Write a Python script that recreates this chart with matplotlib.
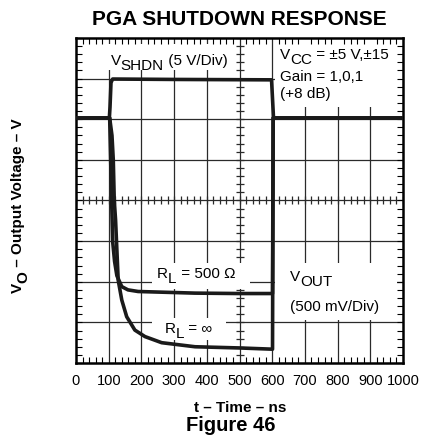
import numpy as np
import matplotlib
matplotlib.use('Agg')
import matplotlib.pyplot as plt
from matplotlib.patches import Rectangle

plt.rcParams['font.family'] = ['Liberation Sans', 'DejaVu Sans']

# scope trace, time in ns, vertical position in screen divisions (0..8)
t_shdn = [0, 102, 104, 107, 112, 300, 598, 601, 604, 1000]
v_shdn = [6.03, 6.03, 6.3, 6.9, 6.99, 6.98, 6.97, 6.5, 6.03, 6.03]

t_r500 = [0, 103, 106, 109, 112, 118, 125, 140, 159, 190, 364, 500, 601, 603, 1000]
v_r500 = [6.03, 6.03, 5.0, 4.0, 3.0, 2.5, 2.15, 1.88, 1.80, 1.76, 1.72, 1.71, 1.71, 6.03, 6.03]

t_rinf = [0, 103, 110, 114, 117, 121, 129, 140, 155, 180, 211, 262, 364, 501, 601, 603, 1000]
v_rinf = [6.03, 6.03, 5.6, 5.0, 4.0, 3.52, 2.04, 1.55, 1.14, 0.81, 0.65, 0.50, 0.40, 0.37, 0.34, 6.03, 6.03]

time_ticks = list(range(0, 1001, 100))
time_labels = [str(t) for t in time_ticks]

INK = '#1a1a1a'
GRID = '#2a2a2a'
FS = 11

fig = plt.figure(figsize=(4.28, 4.44), dpi=100)
ax = fig.add_axes([76/428, 1-363/444, 327/428, 325/444])
ax.set_xlim(0, 1000)
ax.set_ylim(0, 8)

# graticule
for t in time_ticks[1:-1]:
    ax.axvline(t, color=GRID, lw=0.9, zorder=0.6)
for d in range(1, 8):
    ax.axhline(d, color=GRID, lw=0.9, zorder=0.6)

# small ticks on the centre cross
ax.plot(np.arange(0, 1001, 20), np.full(51, 4.0), ls='none', marker='|',
        ms=6, mew=0.9, color=GRID, zorder=0.6)
ax.plot(np.full(41, 500.0), np.arange(0, 8.01, 0.2), ls='none', marker='_',
        ms=6, mew=0.9, color=GRID, zorder=0.6)

# white backing behind the annotations
for x0, x1, y0, y1 in [(98, 489, 7.21, 7.85), (609, 1000, 6.30, 8.0),
                       (609, 982, 1.06, 2.46), (232, 532, 1.82, 2.46),
                       (232, 460, 0.56, 1.11)]:
    ax.add_patch(Rectangle((x0, y0), x1-x0, y1-y0, fc='white', ec='none', zorder=1.0))

ax.plot(t_shdn, v_shdn, color=INK, lw=2.6, zorder=3, solid_joinstyle='round')
ax.plot(t_r500, v_r500, color=INK, lw=2.6, zorder=3, solid_joinstyle='round')
ax.plot(t_rinf, v_rinf, color=INK, lw=2.6, zorder=3, solid_joinstyle='round')

for s in ax.spines.values():
    s.set_linewidth(1.8)
ax.set_axisbelow('line')
ax.set_xticks(time_ticks)
ax.set_xticklabels(time_labels, fontsize=10.5)
ax.set_yticks([])
ax.set_xticks(np.arange(0, 1001, 20), minor=True)
ax.set_yticks(np.arange(0, 8.01, 0.2), minor=True)
ax.tick_params(axis='x', which='major', length=0, pad=8)
ax.tick_params(which='minor', direction='in', length=4.5, width=0.8,
               top=True, bottom=True, left=True, right=True)
ax.tick_params(axis='y', which='major', length=0)


def chain(x, y, parts, size, weight='normal', rot=0, coords='data', **kw):
    """Write text with full-size lowered subscripts; parts = [(text, is_sub), ...]."""
    drop = 0.32 * size
    first, sub = parts[0]
    prev = ax.annotate(first, xy=(x, y), xycoords=coords, fontsize=size,
                       fontweight=weight, rotation=rot, ha='left', va='center',
                       annotation_clip=False, zorder=2, **kw)
    prev_sub = sub
    for s, sub in parts[1:]:
        dy = (prev_sub - sub) * drop
        if rot == 0:
            prev = ax.annotate(s, xy=(1, 0), xycoords=prev, xytext=(0, dy),
                               textcoords='offset points', fontsize=size,
                               fontweight=weight, ha='left', va='bottom', zorder=2)
        else:
            prev = ax.annotate(s, xy=(0, 1), xycoords=prev, xytext=(-dy, 0),
                               textcoords='offset points', fontsize=size,
                               fontweight=weight, rotation=rot, ha='left',
                               va='bottom', zorder=2)
        prev_sub = sub


chain(106, 7.43, [('V', 0), ('SHDN', 1), (' (5 V/Div)', 0)], FS)
chain(624, 7.57, [('V', 0), ('CC', 1), (' = \u00b15 V,\u00b115', 0)], FS)
ax.text(624, 7.03, 'Gain = 1,0,1', fontsize=FS, ha='left', va='center', zorder=2)
ax.text(624, 6.62, '(+8 dB)', fontsize=FS, ha='left', va='center', zorder=2)
chain(248, 2.19, [('R', 0), ('L', 1), (' = 500 \u03a9', 0)], FS)
chain(272, 0.84, [('R', 0), ('L', 1), (' = \u221e', 0)], FS)
chain(654, 2.12, [('V', 0), ('OUT', 1)], FS)
ax.text(654, 1.39, '(500 mV/Div)', fontsize=FS, ha='left', va='center', zorder=2)

chain(11/428, 1-288/444, [('V', 0), ('O', 1), (' \u2013 Output Voltage \u2013 V', 0)],
      11, weight='bold', rot=90, coords='figure fraction')

fig.text(239.5/428, 1-19.5/444, 'PGA SHUTDOWN RESPONSE', fontsize=15,
         fontweight='bold', ha='center', va='center')
fig.text(240.5/428, 1-408/444, 't \u2013 Time \u2013 ns', fontsize=11,
         fontweight='bold', ha='center', va='center')
fig.text(231/428, 1-425/444, 'Figure 46', fontsize=14.5,
         fontweight='bold', ha='center', va='center')

fig.savefig('out.png', dpi=100)
